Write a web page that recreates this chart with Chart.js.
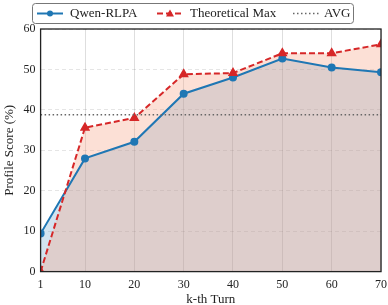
<!DOCTYPE html>
<html>
<head>
    <script src="https://cdn.jsdelivr.net/npm/chart.js"></script>
    <style>
        body { margin: 0; background: white; }
        .wrap { width: 388px; height: 305px; }
    </style>
</head>
<body>
    <div class="wrap"><canvas id="turnChart"></canvas></div>
    <script>
        const turns = [1, 10, 20, 30, 40, 50, 60, 70];
        const qwenScores = [9.4, 28.0, 32.1, 44.0, 48.0, 52.7, 50.5, 49.3];
        const theoMax = [0, 35.6, 38.0, 48.8, 49.1, 54.0, 54.0, 56.2];
        const avgScore = 38.8;
        const yTicks = [0, 10, 20, 30, 40, 50, 60];

        const FONT = "'Liberation Serif', 'DejaVu Serif', serif";
        const BLUE = '#1f77b4';
        const RED = '#d62728';

        const toPoints = vals => turns.map((t, i) => ({ x: t, y: vals[i] }));

        // frame + boxed legend drawn by hand (matplotlib style)
        const framePlugin = {
            id: 'frame',
            afterDraw(chart) {
                const { ctx, chartArea: a } = chart;
                ctx.save();
                ctx.strokeStyle = '#222';
                ctx.lineWidth = 1.3;
                ctx.strokeRect(a.left, a.top, a.right - a.left, a.bottom - a.top);

                // legend box
                ctx.strokeStyle = '#777';
                ctx.lineWidth = 1;
                ctx.fillStyle = 'white';
                ctx.beginPath();
                ctx.roundRect(32.5, 3.5, 321, 20, 3);
                ctx.fill();
                ctx.stroke();

                const ly = 13.5;
                ctx.font = '13px ' + FONT;
                ctx.textBaseline = 'middle';

                // Qwen
                ctx.strokeStyle = BLUE; ctx.lineWidth = 2; ctx.setLineDash([]);
                ctx.beginPath(); ctx.moveTo(37, ly); ctx.lineTo(63, ly); ctx.stroke();
                ctx.fillStyle = BLUE;
                ctx.beginPath(); ctx.arc(50, ly, 3, 0, Math.PI * 2); ctx.fill();
                ctx.fillStyle = '#222';
                ctx.fillText('Qwen-RLPA', 70, ly + 0.5);

                // Theoretical
                ctx.strokeStyle = RED; ctx.setLineDash([6, 3]);
                ctx.beginPath(); ctx.moveTo(157, ly); ctx.lineTo(183, ly); ctx.stroke();
                ctx.setLineDash([]);
                ctx.fillStyle = RED;
                ctx.beginPath(); ctx.moveTo(170, ly - 4); ctx.lineTo(174, ly + 3); ctx.lineTo(166, ly + 3); ctx.closePath(); ctx.fill();
                ctx.fillStyle = '#222';
                ctx.fillText('Theoretical Max', 190, ly + 0.5);

                // AVG
                ctx.strokeStyle = '#666'; ctx.lineWidth = 1.5; ctx.setLineDash([1.5, 2.5]);
                ctx.beginPath(); ctx.moveTo(293, ly); ctx.lineTo(319, ly); ctx.stroke();
                ctx.setLineDash([]);
                ctx.fillStyle = '#222';
                ctx.fillText('AVG', 324, ly + 0.5);
                ctx.restore();
            }
        };

        new Chart(document.getElementById('turnChart'), {
            type: 'line',
            data: {
                datasets: [
                    {
                        label: 'Qwen-RLPA',
                        data: toPoints(qwenScores),
                        borderColor: BLUE,
                        backgroundColor: 'rgba(31, 119, 180, 0.2)',
                        pointBackgroundColor: BLUE,
                        pointBorderColor: BLUE,
                        pointRadius: 3,
                        borderWidth: 2,
                        fill: 'origin',
                        order: 2
                    },
                    {
                        label: 'Theoretical Max',
                        data: toPoints(theoMax),
                        borderColor: RED,
                        backgroundColor: 'rgba(246, 160, 130, 0.33)',
                        pointBackgroundColor: RED,
                        pointBorderColor: RED,
                        pointStyle: 'triangle',
                        pointRadius: 4,
                        borderWidth: 2,
                        borderDash: [6, 3],
                        fill: 'origin',
                        order: 1
                    },
                    {
                        label: 'AVG',
                        data: [{ x: turns[0], y: avgScore }, { x: turns[turns.length - 1], y: avgScore }],
                        borderColor: '#666',
                        borderWidth: 1.5,
                        borderDash: [1.5, 2.5],
                        pointRadius: 0,
                        fill: false,
                        order: 0
                    }
                ]
            },
            options: {
                responsive: true,
                maintainAspectRatio: false,
                animation: false,
                layout: { padding: { top: 29, right: 0, left: 2, bottom: -1 } },
                plugins: {
                    legend: { display: false },
                    tooltip: { enabled: false },
                    filler: { drawTime: 'beforeDatasetsDraw' }
                },
                scales: {
                    x: {
                        type: 'linear',
                        min: 1,
                        max: 70,
                        afterBuildTicks: axis => { axis.ticks = turns.map(v => ({ value: v })); },
                        afterFit: axis => { axis.paddingRight = 7; },
                        grid: { color: 'rgba(0,0,0,0.13)', drawTicks: false },
                        border: { display: false },
                        ticks: { color: '#222', font: { family: FONT, size: 12 }, padding: 6, maxRotation: 0 },
                        title: { display: true, text: 'k-th Turn', color: '#222', font: { family: FONT, size: 13, lineHeight: 1 }, padding: { top: -5, bottom: 0 } }
                    },
                    y: {
                        min: 0,
                        max: 60,
                        afterBuildTicks: axis => { axis.ticks = yTicks.map(v => ({ value: v })); },
                        grid: { color: 'rgba(0,0,0,0.1)', drawTicks: false },
                        border: { display: false, dash: [4, 3] },
                        ticks: { color: '#222', font: { family: FONT, size: 12 }, padding: 5 },
                        title: { display: true, text: 'Profile Score (%)', color: '#222', font: { family: FONT, size: 13 }, padding: { top: 0, bottom: 1 } }
                    }
                }
            },
            plugins: [framePlugin]
        });
    </script>
</body>
</html>
